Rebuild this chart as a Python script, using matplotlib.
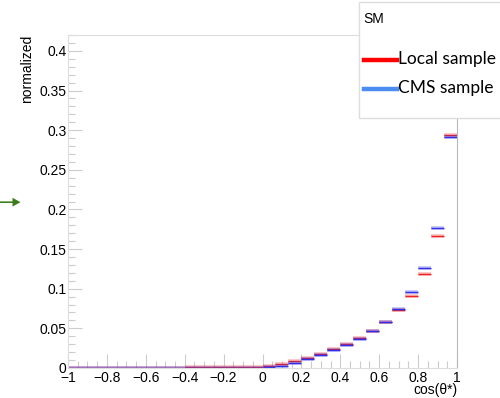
import numpy as np
import matplotlib
matplotlib.use("Agg")
import matplotlib.pyplot as plt
from matplotlib.ticker import MultipleLocator, FuncFormatter
from matplotlib.patches import Rectangle, FancyArrow

# 30 bins over cos(theta*) in [-1, 1]
bin_edges = np.linspace(-1, 1, 31)

local_vals = [0.0001, 0.0001, 0.0002, 0.0002, 0.0003, 0.0003, 0.0004, 0.0005,
              0.0006, 0.0007, 0.0008, 0.0010, 0.0012, 0.0014, 0.0018,
              0.0025, 0.0046, 0.0084, 0.0122, 0.0180, 0.0240, 0.0307, 0.0380,
              0.0470, 0.0585, 0.0730, 0.0910, 0.1186, 0.1670, 0.2936]
cms_vals = [0.0000, 0.0000, 0.0000, 0.0001, 0.0001, 0.0001, 0.0001, 0.0002,
            0.0002, 0.0002, 0.0003, 0.0003, 0.0004, 0.0004, 0.0005,
            0.0008, 0.0030, 0.0063, 0.0114, 0.0168, 0.0223, 0.0290, 0.0370,
            0.0468, 0.0585, 0.0740, 0.0955, 0.1260, 0.1767, 0.2910]

series = [("Local sample", local_vals, "#ee2222", "#ff0000"),
          ("CMS sample", cms_vals, "#3030e8", "#4a8cf0")]

fig = plt.figure(figsize=(5.0, 3.98), dpi=100)
ax = fig.add_axes([0.136, 0.0754, 0.778, 0.8366])

lo, hi = bin_edges[:-1], bin_edges[1:]
for name, vals, col, _ in series:
    ax.hlines(vals, lo, hi, colors=col, lw=2.6, alpha=0.3)
    ax.hlines(vals, lo, hi, colors=col, lw=1.0)

ax.set_xlim(-1, 1)
ax.set_ylim(0, 0.42)

fmt = FuncFormatter(lambda v, p: ("%g" % round(v, 3)).replace("-", "\u2212"))
ax.xaxis.set_major_locator(MultipleLocator(0.2))
ax.xaxis.set_minor_locator(MultipleLocator(0.05))
ax.yaxis.set_major_locator(MultipleLocator(0.05))
ax.yaxis.set_minor_locator(MultipleLocator(0.01))
ax.xaxis.set_major_formatter(fmt)
ax.yaxis.set_major_formatter(fmt)
ax.tick_params(which="both", direction="in", colors="#cccccc", labelcolor="black",
               labelsize=10, top=False, right=False)
ax.tick_params(which="major", length=10, width=0.8)
ax.tick_params(which="minor", length=5, width=0.8)
ax.tick_params(axis="x", pad=2)
ax.tick_params(axis="y", pad=1)
for lab in ax.get_xticklabels() + ax.get_yticklabels():
    lab.set_family("Liberation Sans")

for s in ["left", "top", "bottom"]:
    ax.spines[s].set_color("#dddddd")
ax.spines["right"].set_color("#b8b8b8")

ax.text(1.0, -0.046, "cos(\u03b8*)", transform=ax.transAxes, ha="right", va="top",
        fontsize=10, family="Liberation Sans")
fig.text(0.054, 0.912, "normalized", rotation=90, ha="center", va="top",
         fontsize=10, family="Liberation Sans")

# legend box drawn by hand
fig.patches.append(Rectangle((0.718, 0.7035), 0.29, 0.292, transform=fig.transFigure,
                             facecolor="white", edgecolor="#dddddd", lw=1, zorder=5))
fig.text(0.726, 0.952, "SM", ha="left", va="center", fontsize=10,
         family="Liberation Sans", zorder=6)
for i, (name, vals, _, lcol) in enumerate(series):
    y = 0.848 - i * 0.072
    fig.lines.append(plt.Line2D([0.728, 0.794], [y, y], transform=fig.transFigure,
                                color=lcol, lw=3.2, zorder=6))
    fig.text(0.796, y + 0.004, name, ha="left", va="center", fontsize=12.5,
             family="Lato", zorder=6)

# small green arrow at the left edge
fig.patches.append(FancyArrow(0.0, 0.492, 0.025, 0.0, width=0.004, head_width=0.022,
                              head_length=0.016, transform=fig.transFigure,
                              color="#3a7d1a", lw=0))

fig.savefig("out.png", dpi=100)
